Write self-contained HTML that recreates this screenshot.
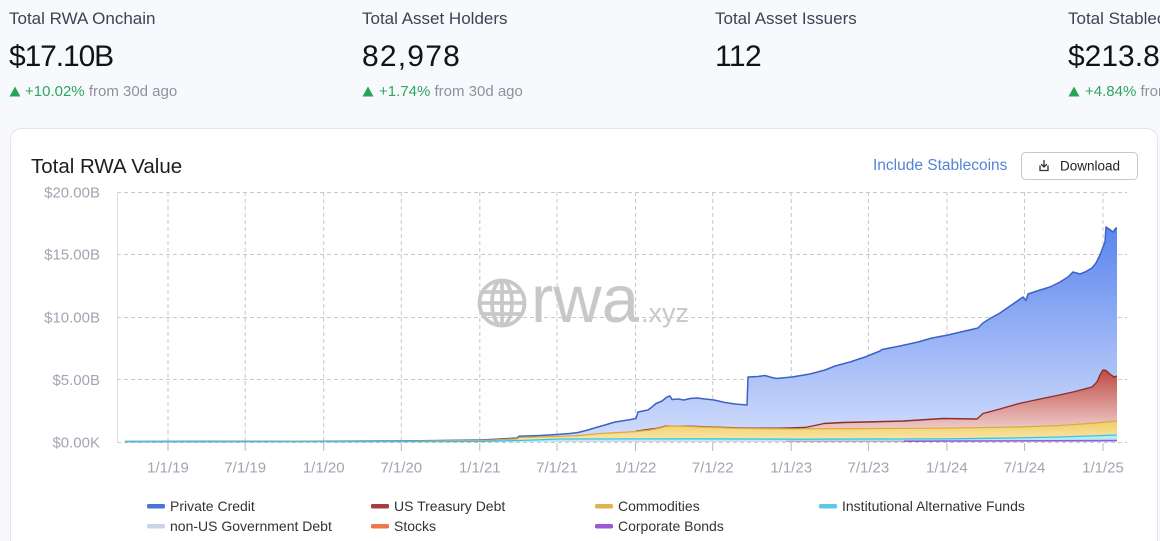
<!DOCTYPE html>
<html><head><meta charset="utf-8"><style>
html,body{margin:0;padding:0;background:#f7f9fc;}
body{width:1160px;height:541px;overflow:hidden;}
svg{display:block;font-family:"Liberation Sans",Arial,sans-serif;}
</style></head><body>
<svg width="1160" height="541" viewBox="0 0 1160 541" xmlns="http://www.w3.org/2000/svg">
<defs>
<linearGradient id="gP" gradientUnits="userSpaceOnUse" x1="0" y1="226" x2="0" y2="442">
<stop offset="0" stop-color="#5a85ee"/><stop offset="1" stop-color="#d3defc"/></linearGradient>
<linearGradient id="gR" gradientUnits="userSpaceOnUse" x1="0" y1="370" x2="0" y2="430">
<stop offset="0" stop-color="#bf4a44"/><stop offset="1" stop-color="#efcdca"/></linearGradient>
<linearGradient id="gY" gradientUnits="userSpaceOnUse" x1="0" y1="421" x2="0" y2="440">
<stop offset="0" stop-color="#f1cc66"/><stop offset="1" stop-color="#f8e6a8"/></linearGradient>
</defs>
<rect width="1160" height="541" fill="#f7f9fc"/>

<!-- stats -->
<g font-size="17" fill="#3d4350">
<text x="9" y="24">Total RWA Onchain</text>
<text x="362" y="24">Total Asset Holders</text>
<text x="715" y="24">Total Asset Issuers</text>
<text x="1068" y="24">Total Stablecoins</text>
</g>
<g font-size="30" fill="#111318">
<text x="9" y="66" letter-spacing="-1.1">$17.10B</text>
<text x="362" y="66" letter-spacing="1.2">82,978</text>
<text x="715" y="66" letter-spacing="-0.6">112</text>
<text x="1068" y="66" letter-spacing="0">$213.84B</text>
</g>
<g font-size="15">
<polygon points="9.5,96.5 15,86.5 20.5,96.5" fill="#2aa35a"/>
<text x="25" y="96" fill="#2ea55f">+10.02% <tspan fill="#8c919b">from 30d ago</tspan></text>
<polygon points="362.5,96.5 368,86.5 373.5,96.5" fill="#2aa35a"/>
<text x="379" y="96" fill="#2ea55f">+1.74% <tspan fill="#8c919b">from 30d ago</tspan></text>
<polygon points="1068.5,96.5 1074,86.5 1079.5,96.5" fill="#2aa35a"/>
<text x="1085" y="96" fill="#2ea55f">+4.84% <tspan fill="#8c919b">from 30d ago</tspan></text>
</g>

<!-- card -->
<path d="M10.5,545 V140.5 Q10.5,128.5 22.5,128.5 H1145.5 Q1157.5,128.5 1157.5,140.5 V545" fill="#ffffff" stroke="#e3e6eb"/>
<text x="31" y="173" font-size="20.5" fill="#1b1d21">Total RWA Value</text>
<text x="873" y="170" font-size="15.5" fill="#5583d6">Include Stablecoins</text>
<rect x="1021.5" y="152.5" width="116" height="27" rx="4" fill="#fff" stroke="#c5c8cd"/>
<g stroke="#333" stroke-width="1.3" fill="none" stroke-linecap="round">
<path d="M1044,160.5 V167 M1041.5,164.5 L1044,167 L1046.5,164.5"/>
<path d="M1040,166 V170.5 H1048 V166"/>
</g>
<text x="1060" y="170.5" font-size="13.5" fill="#222">Download</text>

<!-- grid -->
<g stroke="#c8c8c8" stroke-width="1" stroke-dasharray="4 3" fill="none">
<path d="M117,192.5 H1127 M117,254.5 H1127 M117,317.5 H1127 M117,379.5 H1127 M117,442.5 H1127"/>
<path d="M168,192 V442 M245.2,192 V442 M323.7,192 V442 M401.3,192 V442 M479.8,192 V442 M557,192 V442 M635.5,192 V442 M712.7,192 V442 M791.2,192 V442 M868.4,192 V442 M946.9,192 V442 M1024.5,192 V442 M1103,192 V442"/>
</g>
<line x1="117.5" y1="192" x2="117.5" y2="443" stroke="#dcdfe3"/>
<g stroke="#b8b8b8" stroke-width="1">
<path d="M168,443 V451 M245.2,443 V451 M323.7,443 V451 M401.3,443 V451 M479.8,443 V451 M557,443 V451 M635.5,443 V451 M712.7,443 V451 M791.2,443 V451 M868.4,443 V451 M946.9,443 V451 M1024.5,443 V451 M1103,443 V451"/>
</g>

<!-- axis labels -->
<g font-size="15" fill="#a0a5b1" text-anchor="end">
<text x="100" y="197.5">$20.00B</text>
<text x="100" y="259.5">$15.00B</text>
<text x="100" y="322.5">$10.00B</text>
<text x="100" y="385">$5.00B</text>
<text x="100" y="447.5">$0.00K</text>
</g>
<g font-size="15" fill="#a0a5b1" text-anchor="middle">
<text x="168" y="472.5">1/1/19</text>
<text x="245.2" y="472.5">7/1/19</text>
<text x="323.7" y="472.5">1/1/20</text>
<text x="401.3" y="472.5">7/1/20</text>
<text x="479.8" y="472.5">1/1/21</text>
<text x="557" y="472.5">7/1/21</text>
<text x="635.5" y="472.5">1/1/22</text>
<text x="712.7" y="472.5">7/1/22</text>
<text x="791.2" y="472.5">1/1/23</text>
<text x="868.4" y="472.5">7/1/23</text>
<text x="946.9" y="472.5">1/1/24</text>
<text x="1024.5" y="472.5">7/1/24</text>
<text x="1103" y="472.5">1/1/25</text>
</g>

<!-- watermark -->
<g opacity="0.95">
<g stroke="#c6c6c6" stroke-width="3.8" fill="none">
<circle cx="502" cy="303" r="22.5"/>
<ellipse cx="502" cy="303" rx="10" ry="22.5"/>
<path d="M502,280.5 V325.5 M479.5,303 H524.5 M482.5,292 H521.5 M482.5,314 H521.5"/>
</g>
<text x="531" y="322" font-size="67" fill="#c6c6c6">rwa</text>
<text x="641" y="322" font-size="27" fill="#c6c6c6">.xyz</text>
</g>

<!-- series: private credit -->
<path fill="url(#gP)" d="M125,442 L125,441.5 300,441.2 420,440.8 480,440 500,439 517,438 519,436.2 540,435.5 557,434.5 570,433.5 578,432.5 588,430 596,427.5 605,425 615,422 628,420 636,418.5 638,412 648,410 652,407 656,403.5 662,401 667,397 670,396 672,399.5 678,399 684,400 690,398.5 697,398 705,399 714,400 725,402.5 735,404 747,405 748,377 758,376.5 765,375.5 770,377 776,378.5 792,377 810,374 825,370 835,366 850,362 865,357 870,355 880,351 882,349.5 900,346 918,342 932,338 948,335 965,331 978,328 983,323 990,318.5 1000,313 1013,304 1023,297 1026,300.5 1028,294 1040,290 1050,287 1060,282 1068,277 1073,272 1080,274 1085,272 1092,268 1096,263 1100,255 1103,247 1105,242 1106,227 1109,229 1113,232 1116,228 1117,228.5 L1117,442 Z"/>
<polyline fill="none" stroke="#3d62c6" stroke-width="1.5" stroke-linejoin="round" points="125,441.5 300,441.2 420,440.8 480,440 500,439 517,438 519,436.2 540,435.5 557,434.5 570,433.5 578,432.5 588,430 596,427.5 605,425 615,422 628,420 636,418.5 638,412 648,410 652,407 656,403.5 662,401 667,397 670,396 672,399.5 678,399 684,400 690,398.5 697,398 705,399 714,400 725,402.5 735,404 747,405 748,377 758,376.5 765,375.5 770,377 776,378.5 792,377 810,374 825,370 835,366 850,362 865,357 870,355 880,351 882,349.5 900,346 918,342 932,338 948,335 965,331 978,328 983,323 990,318.5 1000,313 1013,304 1023,297 1026,300.5 1028,294 1040,290 1050,287 1060,282 1068,277 1073,272 1080,274 1085,272 1092,268 1096,263 1100,255 1103,247 1105,242 1106,227 1109,229 1113,232 1116,228 1117,228.5"/>

<!-- US treasury -->
<path fill="url(#gR)" d="M125,442 L125,441.3 480,440.2 557,436.2 600,433.2 636,431.2 658,428.2 665,426.2 690,426.2 714,427.2 750,428.2 780,428.2 790,428 805,427.5 815,425.5 824,423.5 843,422.5 866,422 904,421 943,418.5 977,419 983,413.5 1000,409 1019,403.5 1040,399 1057,395.5 1073,392 1092,387 1097,382 1100,375 1103,370 1106,370.5 1111,375 1114,377 1117,376 L1117,442 Z"/>
<polyline fill="none" stroke="#8e2d2b" stroke-width="1.4" stroke-linejoin="round" points="636,431.2 658,428.2 665,426.2 690,426.2 714,427.2 750,428.2 780,428.2 790,428 805,427.5 815,425.5 824,423.5 843,422.5 866,422 904,421 943,418.5 977,419 983,413.5 1000,409 1019,403.5 1040,399 1057,395.5 1073,392 1092,387 1097,382 1100,375 1103,370 1106,370.5 1111,375 1114,377 1117,376"/>

<!-- commodities -->
<path fill="url(#gY)" d="M125,442 L125,441.6 400,441.2 480,440.5 517,439 519,437.5 557,436.5 580,435.5 600,433.5 620,432.5 636,431.5 650,430 658,428.5 665,426.5 675,426 690,426.5 714,427.5 750,428.5 790,428.8 850,428.6 943,428.2 1019,427 1060,425.5 1096,423 1117,421 L1117,442 Z"/>
<polyline fill="none" stroke="#dcaa3c" stroke-width="1.2" stroke-linejoin="round" points="125,441.6 400,441.2 480,440.5 517,439 519,437.5 557,436.5 580,435.5 600,433.5 620,432.5 636,431.5 650,430 658,428.5 665,426.5 675,426 690,426.5 714,427.5 750,428.5 790,428.8 850,428.6 943,428.2 1019,427 1060,425.5 1096,423 1117,421"/>

<!-- inst alt funds -->
<path fill="#b4ebf7" d="M125,442 L125,441.8 480,441.5 519,440.5 560,439 700,438.8 800,439.2 950,438.8 1000,438.2 1060,437 1117,435 L1117,442 Z"/>
<polyline fill="none" stroke="#3fc2e2" stroke-width="1.3" points="125,441.8 480,441.5 519,440.5 560,439 700,438.8 800,439.2 950,438.8 1000,438.2 1060,437 1117,435"/>
<path d="M560,441 H1117" stroke="#d4ddef" stroke-width="1.2"/>
<path d="M786,441.3 H904" stroke="#9aa3b0" stroke-width="1"/>
<path d="M904,441.2 L1117,440.6" stroke="#9b59d8" stroke-width="1.6"/>

<!-- legend -->
<g>
<rect x="147" y="504" width="18" height="4.5" rx="1.5" fill="#4a72d8"/>
<rect x="371" y="504" width="18" height="4.5" rx="1.5" fill="#a53f3d"/>
<rect x="595" y="504" width="18" height="4.5" rx="1.5" fill="#e2b24e"/>
<rect x="819" y="504" width="18" height="4.5" rx="1.5" fill="#5cc8e8"/>
<rect x="147" y="524" width="18" height="4.5" rx="1.5" fill="#c9d4e8"/>
<rect x="371" y="524" width="18" height="4.5" rx="1.5" fill="#f07646"/>
<rect x="595" y="524" width="18" height="4.5" rx="1.5" fill="#9b59d8"/>
</g>
<g font-size="14" fill="#333">
<text x="170" y="511">Private Credit</text>
<text x="394" y="511">US Treasury Debt</text>
<text x="618" y="511">Commodities</text>
<text x="842" y="511">Institutional Alternative Funds</text>
<text x="170" y="531">non-US Government Debt</text>
<text x="394" y="531">Stocks</text>
<text x="618" y="531">Corporate Bonds</text>
</g>
</svg>
</body></html>
